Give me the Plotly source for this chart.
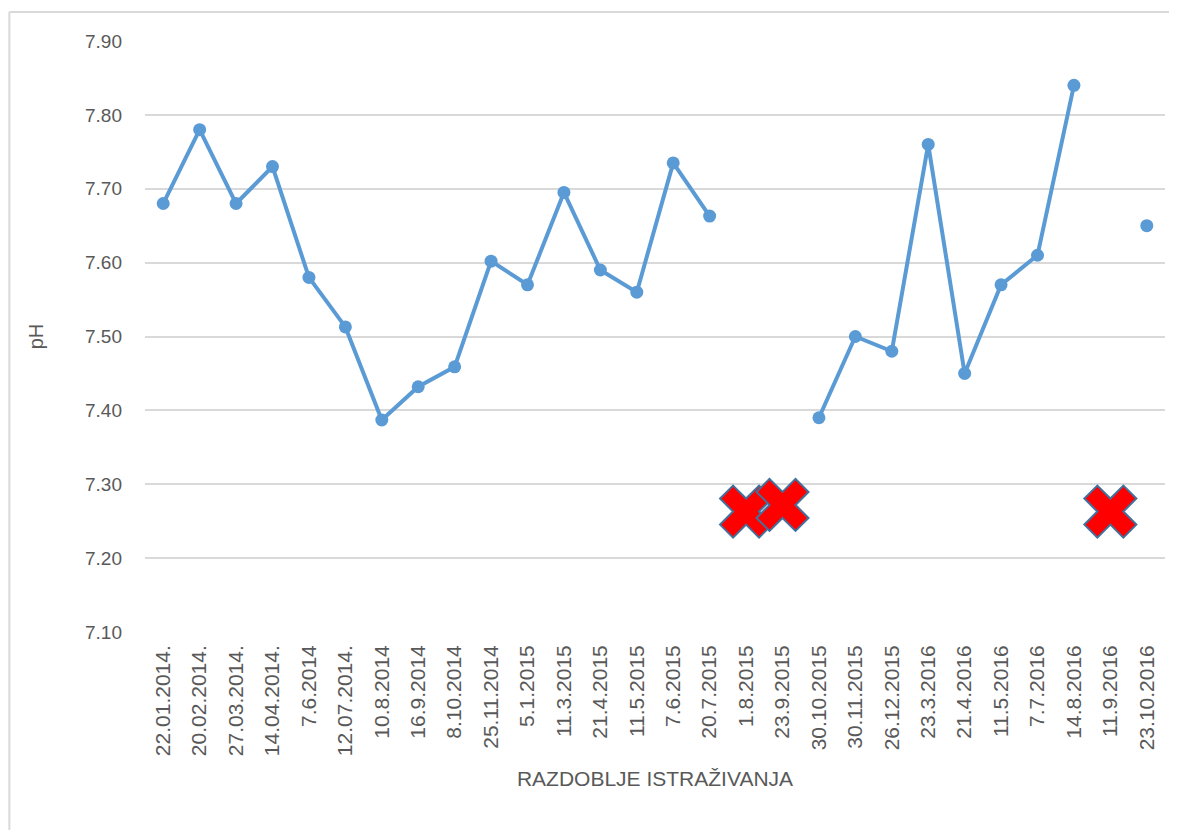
import plotly.graph_objects as go

dates = [
    "22.01.2014.", "20.02.2014.", "27.03.2014.", "14.04.2014.", "7.6.2014",
    "12.07.2014.", "10.8.2014", "16.9.2014", "8.10.2014", "25.11.2014",
    "5.1.2015", "11.3.2015", "21.4.2015", "11.5.2015", "7.6.2015",
    "20.7.2015", "1.8.2015", "23.9.2015", "30.10.2015", "30.11.2015",
    "26.12.2015", "23.3.2016", "21.4.2016", "11.5.2016", "7.7.2016",
    "14.8.2016", "11.9.2016", "23.10.2016",
]
ph = [
    7.68, 7.78, 7.68, 7.73, 7.58,
    7.513, 7.387, 7.432, 7.459, 7.602,
    7.57, 7.695, 7.59, 7.56, 7.735,
    7.663, None, None, 7.39, 7.50,
    7.48, 7.76, 7.45, 7.57, 7.61,
    7.84, None, 7.65,
]
# missing samples, marked with a red cross
missing_dates = ["1.8.2015", "23.9.2015", "11.9.2016"]
missing_y = [7.263, 7.272, 7.263]

font = "Liberation Sans"
grey = "#595959"

fig = go.Figure()
fig.add_trace(go.Scatter(
    x=dates, y=ph, mode="lines+markers",
    line={"color": "#5B9BD5", "width": 4},
    marker={"color": "#5B9BD5", "size": 13},
    connectgaps=False, hoverinfo="skip",
))
fig.add_trace(go.Scatter(
    x=missing_dates, y=missing_y, mode="markers",
    marker={"symbol": "x", "size": 46, "color": "#FF0000",
            "line": {"color": "#41719C", "width": 2}},
    hoverinfo="skip",
))

# page body has an 8px margin, so the figure is a bit smaller than the window
fig.update_layout(
    width=1169, height=822,
    margin={"l": 137, "r": 12, "t": 33, "b": 198},
    paper_bgcolor="white", plot_bgcolor="white",
    showlegend=False,
    font={"family": font, "color": grey},
    xaxis={
        "type": "category", "range": [-0.5, 27.5],
        "tickangle": -90, "tickfont": {"size": 21, "color": grey},
        "showgrid": False, "showline": False, "zeroline": False,
        "ticks": "", "ticklabelstandoff": 8,
        "title": {"text": "RAZDOBLJE ISTRAŽIVANJA", "font": {"size": 21, "color": grey},
                  "standoff": 16},
    },
    yaxis={
        "range": [7.10, 7.90], "dtick": 0.1, "tickformat": ".2f",
        "tickfont": {"size": 19, "color": grey},
        "showgrid": True, "gridcolor": "#D9D9D9", "gridwidth": 1.5,
        "zeroline": False, "showline": False, "ticks": "",
        "ticklabelstandoff": 22,
        "title": {"text": "pH", "font": {"size": 20, "color": grey}, "standoff": 36},
    },
    shapes=[
        {"type": "line", "xref": "paper", "yref": "paper",
         "x0": -0.133, "x1": 1.05, "y0": 1.049, "y1": 1.049,
         "line": {"color": "#D9D9D9", "width": 2}},
        {"type": "line", "xref": "paper", "yref": "paper",
         "x0": -0.133, "x1": -0.133, "y0": 1.049, "y1": -0.4,
         "line": {"color": "#D9D9D9", "width": 2}},
    ],
)

fig.write_html("out.html")
